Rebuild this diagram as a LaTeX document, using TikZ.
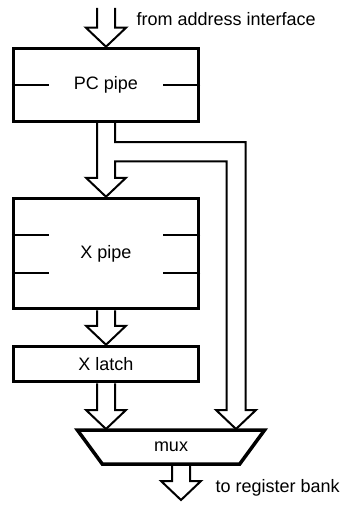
\documentclass[tikz,border=0pt]{standalone}
\usepackage{fontspec}
\setmainfont{Liberation Sans}
\usetikzlibrary{shapes}
\usetikzlibrary{calc}

\tikzset{
  blk/.style={draw,line width=3.5pt,minimum width=185pt,inner sep=0pt},
  wire/.style={line width=2pt,line join=miter},
  tick/.style={line width=2pt}
}
\newcommand{\fatarrow}[2]{%
  \draw[wire] ($(#1)+(-9,0)$) -- ($(#2)+(-9,-19)$) -- ($(#2)+(-20,-19)$) -- (#2)
    -- ($(#2)+(20,-19)$) -- ($(#2)+(9,-19)$) -- ($(#1)+(9,0)$);}

\begin{document}
\begin{tikzpicture}[x=1pt,y=-1pt,font=\fontsize{18}{21}\selectfont]
                    \useasboundingbox (0,0) rectangle (341,505);
                    \draw (106,85) node[blk,minimum height=73pt,name=pc] {PC pipe};
                    \draw (106,253.5) node[blk,minimum height=110pt,name=xp] {X pipe};
                    \draw (106,364) node[blk,minimum height=35pt,name=xl] {X latch};
                    \draw (171,447) node[trapezium,draw,line width=3.5pt,trapezium angle=58,trapezium stretches=true,shape border rotate=180,minimum width=188pt,minimum height=34pt,inner sep=0pt,name=mux] {mux};
                    \draw[tick] (pc.west) -- ++(37,0);
                    \draw[tick] (pc.east) -- ++(-37,0);
                    \draw[tick] ($(xp.west)+(0,-19)$) -- ++(37,0);
                    \draw[tick] ($(xp.west)+(0,19)$) -- ++(37,0);
                    \draw[tick] ($(xp.east)+(0,-19)$) -- ++(-37,0);
                    \draw[tick] ($(xp.east)+(0,19)$) -- ++(-37,0);
                    \coordinate (in) at (106,8);
                    \coordinate (ml) at ($(mux.center)+(-65,-18)$);
                    \coordinate (mr) at ($(mux.center)+(65,-18)$);
                    \coordinate (mo) at ($(mux.center)+(10,17)$);
                    \coordinate (out) at ($(mo)+(0,36)$);
                    \fatarrow{in}{pc.north}
                    \draw[wire] ($(pc.south)+(-9,0)$) -- ($(xp.north)+(-9,-19)$) -- ($(xp.north)+(-20,-19)$) -- (xp.north)
                      -- ($(xp.north)+(20,-19)$) -- ($(xp.north)+(9,-19)$) -- ($(pc.south)+(9,38)$)
                      -| ($(mr)+(-9.5,-19)$) -- ($(mr)+(-20,-19)$) -- (mr) -- ($(mr)+(20,-19)$) -- ($(mr)+(9.5,-19)$)
                      |- ($(pc.south)+(9,19)$) -- ($(pc.south)+(9,0)$);
                    \fatarrow{xp.south}{xl.north}
                    \fatarrow{xl.south}{ml}
                    \fatarrow{mo}{out}
                    \draw (133,26) node[anchor=base west,name=src] {from address interface};
                    \draw (212,492) node[anchor=base west,name=dst] {to register bank};
                \end{tikzpicture}
\end{document}
